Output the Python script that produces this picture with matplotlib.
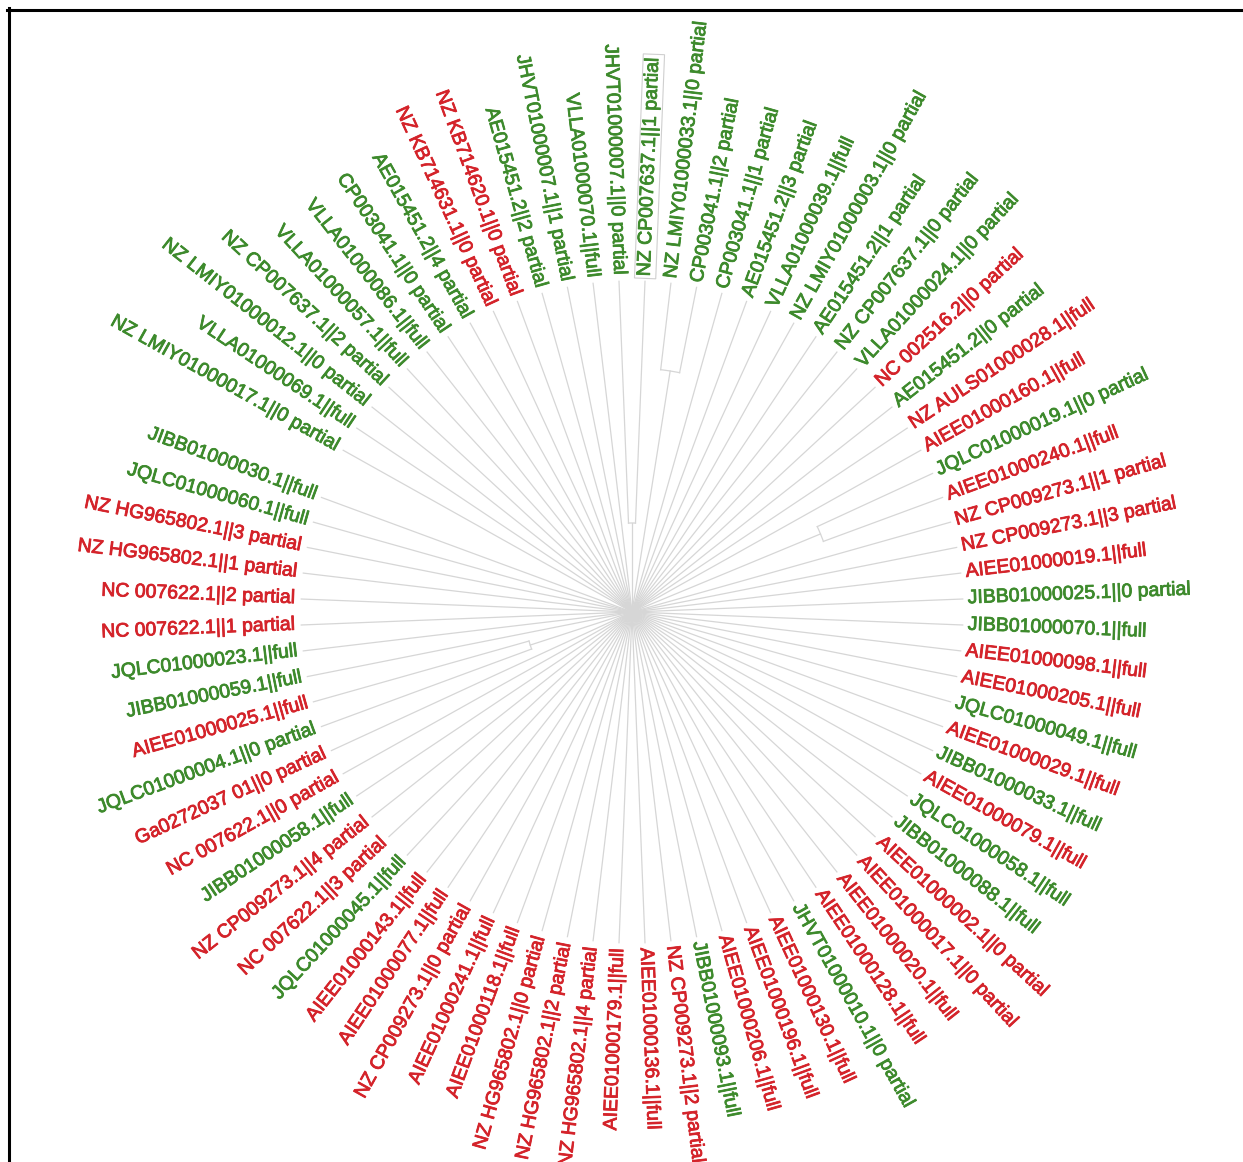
import numpy as np
import matplotlib.pyplot as plt
import matplotlib.patheffects as pe
from matplotlib.lines import Line2D

# leaves, counter-clockwise starting just above 3 o'clock
labels = [
    "JIBB01000025.1||0 partial", "AIEE01000019.1||full", "NZ CP009273.1||3 partial",
    "NZ CP009273.1||1 partial", "AIEE01000240.1||full", "JQLC01000019.1||0 partial",
    "AIEE01000160.1||full", "NZ AULS01000028.1||full", "AE015451.2||0 partial",
    "NC 002516.2||0 partial", "VLLA01000024.1||0 partial", "NZ CP007637.1||0 partial",
    "AE015451.2||1 partial", "NZ LMIY01000003.1||0 partial", "VLLA01000039.1||full",
    "AE015451.2||3 partial", "CP003041.1||1 partial", "CP003041.1||2 partial",
    "NZ LMIY01000033.1||0 partial", "NZ CP007637.1||1 partial", "JHVT01000007.1||0 partial",
    "VLLA01000070.1||full", "JHVT01000007.1||1 partial", "AE015451.2||2 partial",
    "NZ KB714620.1||0 partial", "NZ KB714631.1||0 partial", "AE015451.2||4 partial",
    "CP003041.1||0 partial", "VLLA01000086.1||full", "VLLA01000057.1||full",
    "NZ CP007637.1||2 partial", "NZ LMIY01000012.1||0 partial", "VLLA01000069.1||full",
    "NZ LMIY01000017.1||0 partial",
    "JIBB01000030.1||full", "JQLC01000060.1||full", "NZ HG965802.1||3 partial",
    "NZ HG965802.1||1 partial", "NC 007622.1||2 partial", "NC 007622.1||1 partial",
    "JQLC01000023.1||full", "JIBB01000059.1||full", "AIEE01000025.1||full",
    "JQLC01000004.1||0 partial", "Ga0272037 01||0 partial", "NC 007622.1||0 partial",
    "JIBB01000058.1||full", "NZ CP009273.1||4 partial", "NC 007622.1||3 partial",
    "JQLC01000045.1||full", "AIEE01000143.1||full", "AIEE01000077.1||full",
    "NZ CP009273.1||0 partial", "AIEE01000241.1||full", "AIEE01000118.1||full",
    "NZ HG965802.1||0 partial", "NZ HG965802.1||2 partial", "NZ HG965802.1||4 partial",
    "AIEE01000179.1||full", "AIEE01000136.1||full", "NZ CP009273.1||2 partial",
    "JIBB01000093.1||full", "AIEE01000206.1||full", "AIEE01000196.1||full",
    "AIEE01000130.1||full", "JHVT01000010.1||0 partial", "AIEE01000128.1||full",
    "AIEE01000020.1||full", "AIEE01000017.1||0 partial", "AIEE01000002.1||0 partial",
    "JIBB01000088.1||full", "JQLC01000058.1||full", "AIEE01000079.1||full",
    "JIBB01000033.1||full", "AIEE01000029.1||full", "JQLC01000049.1||full",
    "AIEE01000205.1||full", "AIEE01000098.1||full", "JIBB01000070.1||full",
]
groups = list(
    "GRRRRGRRGRGGGGGGGGGGGGGGRRGGGGGGGG"
    "GGRRRRGGRGRRGRRGRRRRRRRRRRRGRRRGRRRRGGRGRGRRG"
)
# slot of each leaf on the 80-slot ring (slot 34 is empty)
slots = list(range(34)) + list(range(35, 80))

# visible inner nodes: (first leaf, second leaf, node radius in px)
clades = [(17, 18, 244), (4, 5, 204), (42, 43, 107), (19, 20, 89)]
root_radius = 0

colors = {"R": "#d4232a", "G": "#3d8a2c"}
branch_color = "#d6d6d6"

W, H = 1243, 1162
cx, cy = 632, 612
r_tip = 331
r_label = 336
step = 360 / 80


def xy(r, ang):
    a = np.deg2rad(ang)
    return cx + r * np.cos(a), cy - r * np.sin(a)


fig = plt.figure(figsize=(W / 100, H / 100), dpi=100)
ax = fig.add_axes([0, 0, 1, 1])
ax.set_xlim(0, W)
ax.set_ylim(H, 0)
ax.set_aspect("equal")
ax.axis("off")

angles = [2.25 + step * s for s in slots]
start_r = [root_radius] * len(labels)
for i, j, r in clades:
    start_r[i] = r
    start_r[j] = r
    a0, a1 = angles[i], angles[j]
    arc = np.linspace(a0, a1, 20)
    ax.plot(*xy(r, arc), color=branch_color, lw=0.9, zorder=1)
    mid = (a0 + a1) / 2
    ax.plot(*xy(np.array([root_radius, r]), mid), color=branch_color, lw=0.9, zorder=1)

for k, (lab, g, ang) in enumerate(zip(labels, groups, angles)):
    ax.plot(*xy(np.array([start_r[k], r_tip]), ang), color=branch_color, lw=0.9, zorder=1)
    x, y = xy(r_label, ang)
    a = ang % 360
    if a < 90 or a > 270:
        rot, ha = a if a < 90 else a - 360, "left"
    else:
        rot, ha = a - 180, "right"
    kw = {}
    if lab == "NZ CP007637.1||1 partial":
        kw["bbox"] = dict(facecolor="none", edgecolor="#cfcfcf", lw=0.8, pad=1.5)
    ax.text(x, y, lab, rotation=rot, rotation_mode="anchor", ha=ha, va="center",
            color=colors[g], fontsize=14, family="Liberation Sans", zorder=3,
            path_effects=[pe.withStroke(linewidth=0.6, foreground=colors[g])], **kw)

# page frame (top and left edges)
fig.add_artist(Line2D([7 / W, 1], [1 - 9.5 / H] * 2, transform=fig.transFigure, color="black", lw=2.2))
fig.add_artist(Line2D([8.5 / W] * 2, [0, 1 - 8 / H], transform=fig.transFigure, color="black", lw=2.2))

fig.savefig("out.png", dpi=100, facecolor="white")
